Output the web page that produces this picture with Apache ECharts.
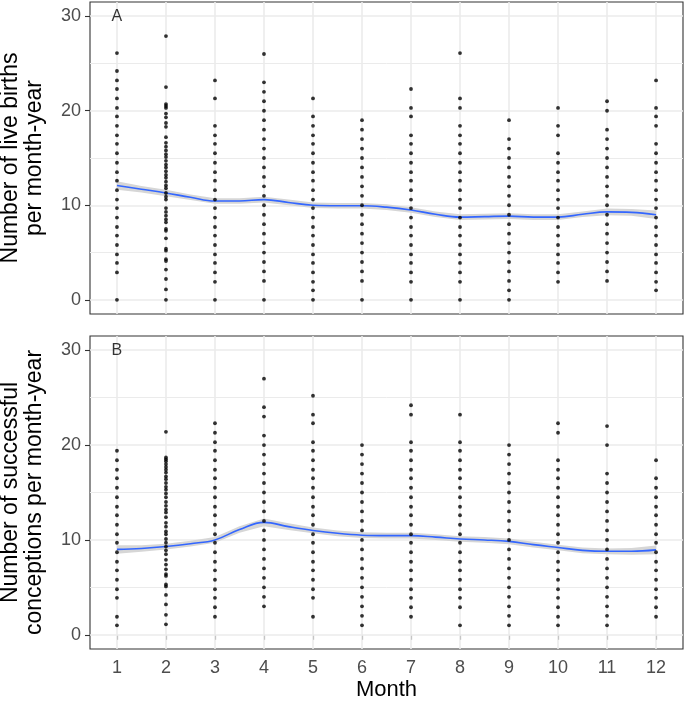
<!DOCTYPE html>
<html>
<head>
<meta charset="utf-8">
<script src="https://cdn.jsdelivr.net/npm/echarts@6/dist/echarts.min.js"></script>
<style>
  html, body { margin: 0; padding: 0; background: #fff; }
  #chart { width: 685px; height: 712px; }
</style>
</head>
<body>
<div id="chart"></div>
<script>
// ---- data ----
const months = [1, 2, 3, 4, 5, 6, 7, 8, 9, 10, 11, 12];
const yTicks = [0, 10, 20, 30];
const yMinorTicks = [5, 15, 25];

// Panel A: live births per month-year, one list per month
const birthsByMonth = [
  [26.1, 24.2, 23.2, 22.3, 21.3, 20.3, 19.4, 18.4, 17.4, 16.5, 15.5, 14.5, 13.5, 12.6, 11.6, 10.6, 9.7, 8.7, 7.7, 6.8, 5.8, 4.8, 3.9, 2.9, 0],
  [27.9, 22.5, 20.7, 20.5, 20.3, 19.7, 19.3, 18.7, 18.3, 17.2, 16.6, 16.2, 15.8, 15.4, 15.1, 14.7, 14.3, 14.0, 13.6, 13.2, 12.9, 12.5, 12.1, 11.8, 11.3, 10.9, 10.6, 9.7, 9.3, 8.9, 8.5, 8.2, 7.5, 7.3, 6.5, 5.4, 5.2, 4.3, 4.1, 3.2, 2.2, 1.1, 0],
  [23.2, 21.3, 18.4, 17.4, 16.5, 15.5, 14.5, 13.5, 12.6, 11.6, 10.6, 9.7, 8.7, 7.7, 6.8, 5.8, 4.8, 3.9, 2.9, 1.9, 0],
  [26, 23, 22, 21, 20, 19, 18, 17, 16, 15, 14, 13, 12, 11, 10, 9, 8, 7, 6, 5, 4, 3, 2, 0],
  [21.3, 19.4, 18.4, 17.4, 16.5, 15.5, 14.5, 13.5, 12.6, 11.6, 10.6, 9.7, 8.7, 7.7, 6.8, 5.8, 4.8, 3.9, 2.9, 1.9, 1.0, 0],
  [19, 18, 17, 16, 15, 14, 13, 12, 11, 10, 9, 8, 7, 6, 5, 4, 3, 2, 0],
  [22.3, 20.3, 19.4, 17.4, 16.5, 15.5, 14.5, 13.5, 12.6, 11.6, 10.6, 9.7, 8.7, 7.7, 6.8, 5.8, 4.8, 3.9, 2.9, 1.9, 0],
  [26.1, 21.3, 20.3, 18.4, 17.4, 16.5, 15.5, 14.5, 13.5, 12.6, 11.6, 10.6, 9.7, 8.7, 7.7, 6.8, 5.8, 4.8, 3.9, 2.9, 1.9, 0],
  [19, 17, 16, 15, 14, 13, 12, 11, 10, 9, 8, 7, 6, 5, 4, 3, 2, 1, 0],
  [20.3, 18.4, 17.4, 15.5, 14.5, 13.5, 12.6, 11.6, 10.6, 9.7, 8.7, 7.7, 6.8, 5.8, 4.8, 3.9, 2.9, 1.9],
  [21, 20, 18, 17, 16, 15, 14, 13, 12, 11, 10, 9, 8, 7, 6, 5, 4, 3, 2],
  [23.2, 20.3, 19.4, 18.4, 16.5, 15.5, 14.5, 13.5, 12.6, 11.6, 10.6, 9.7, 8.7, 7.7, 6.8, 5.8, 4.8, 3.9, 2.9, 1.9, 1.0]
];

// Panel B: successful conceptions per month-year, one list per month
const conceptionsByMonth = [
  [19.4, 18.4, 17.4, 16.5, 15.5, 14.5, 13.5, 12.6, 11.6, 10.6, 9.7, 8.7, 7.7, 6.8, 5.8, 4.8, 3.9, 1.9, 1.0],
  [21.4, 18.7, 18.5, 18.3, 18.0, 17.7, 17.4, 17.1, 16.7, 16.4, 16.0, 15.6, 15.3, 14.9, 14.5, 14.0, 13.6, 13.2, 12.9, 12.4, 11.8, 11.4, 10.9, 10.6, 10.1, 9.7, 9.3, 8.9, 8.5, 7.9, 7.4, 6.9, 6.4, 6.2, 5.3, 5.1, 4.2, 3.2, 2.1, 1.1],
  [22.3, 21.3, 20.3, 19.4, 18.4, 17.4, 16.5, 15.5, 14.5, 13.5, 12.6, 11.6, 10.6, 9.7, 8.7, 7.7, 6.8, 5.8, 4.8, 3.9, 2.9, 1.9],
  [27, 24, 23, 21, 20, 19, 18, 17, 16, 15, 14, 13, 12, 11, 10, 9, 8, 7, 6, 5, 4, 3],
  [25.2, 23.2, 22.3, 20.3, 19.4, 18.4, 17.4, 16.5, 15.5, 14.5, 13.5, 12.6, 11.6, 10.6, 9.7, 8.7, 7.7, 6.8, 5.8, 4.8, 3.9, 1.9],
  [20, 19, 18, 17, 16, 15, 14, 13, 12, 11, 10, 9, 8, 7, 6, 5, 4, 3, 2, 1],
  [24.2, 23.2, 20.3, 19.4, 18.4, 17.4, 16.5, 15.5, 14.5, 13.5, 12.6, 11.6, 10.6, 9.7, 8.7, 7.7, 6.8, 5.8, 4.8, 3.9, 2.9, 1.9],
  [23.2, 20.3, 19.4, 18.4, 17.4, 16.5, 15.5, 14.5, 13.5, 12.6, 11.6, 10.6, 9.7, 8.7, 7.7, 6.8, 5.8, 4.8, 3.9, 2.9, 1.0],
  [20, 19, 18, 17, 16, 15, 14, 13, 12, 11, 10, 9, 8, 7, 6, 5, 4, 3, 2, 1],
  [22.3, 21.3, 18.4, 17.4, 16.5, 15.5, 14.5, 13.5, 12.6, 11.6, 10.6, 9.7, 8.7, 7.7, 6.8, 5.8, 4.8, 3.9, 2.9, 1.9, 1.0],
  [22, 20, 17, 16, 15, 14, 13, 12, 11, 10, 9, 8, 7, 6, 5, 4, 3, 2, 1],
  [18.4, 16.5, 15.5, 14.5, 13.5, 12.6, 11.6, 10.6, 9.7, 8.7, 7.7, 6.8, 5.8, 4.8, 3.9, 2.9, 1.9]
];

// Smoothed fits (read at half-month steps) and their confidence bands
const fitX = [1, 1.5, 2, 2.5, 3, 3.5, 4, 4.5, 5, 5.5, 6, 6.5, 7, 7.5, 8, 8.5, 9, 9.5, 10, 10.5, 11, 11.5, 12];
const birthsFit = [12.1, 11.7, 11.3, 10.85, 10.45, 10.45, 10.6, 10.3, 10.0, 9.95, 9.95, 9.8, 9.5, 9.05, 8.75, 8.8, 8.85, 8.75, 8.75, 9.05, 9.3, 9.25, 9.0];
const birthsLo  = [11.65, 11.35, 10.95, 10.55, 10.15, 10.15, 10.3, 10.0, 9.7, 9.65, 9.65, 9.5, 9.2, 8.75, 8.45, 8.5, 8.55, 8.45, 8.45, 8.75, 8.95, 8.9, 8.55];
const birthsHi  = [12.55, 12.05, 11.65, 11.15, 10.75, 10.75, 10.9, 10.6, 10.3, 10.25, 10.25, 10.1, 9.8, 9.35, 9.05, 9.1, 9.15, 9.05, 9.05, 9.35, 9.65, 9.6, 9.45];
const conceptionsFit = [9.0, 9.1, 9.3, 9.6, 10.0, 11.1, 11.85, 11.4, 11.0, 10.7, 10.5, 10.45, 10.45, 10.3, 10.1, 10.0, 9.85, 9.5, 9.2, 8.9, 8.8, 8.8, 8.95];
const conceptionsLo  = [8.55, 8.75, 9.0, 9.3, 9.7, 10.75, 11.45, 11.05, 10.7, 10.4, 10.2, 10.15, 10.15, 10.0, 9.8, 9.7, 9.55, 9.2, 8.9, 8.6, 8.5, 8.45, 8.5];
const conceptionsHi  = [9.45, 9.45, 9.6, 9.9, 10.3, 11.45, 12.25, 11.75, 11.3, 11.0, 10.8, 10.75, 10.75, 10.6, 10.4, 10.3, 10.15, 9.8, 9.5, 9.2, 9.1, 9.15, 9.4];

const panelLabels = ['A', 'B'];
const yTitles = ['Number of live births\nper month-year', 'Number of successful\nconceptions per month-year'];
const xTitle = 'Month';

// ---- build options ----
const FONT = '"Liberation Sans", Arial, Helvetica, sans-serif';
const GRID_COLOR = '#ebebeb';

function pointsOf(byMonth) {
  const out = [];
  byMonth.forEach((vals, i) => vals.forEach(v => out.push([months[i], v])));
  return out;
}
function pairs(xs, ys) { return xs.map((x, i) => [x, ys[i]]); }

function gridLines() {
  const d = [];
  months.forEach(m => d.push({ xAxis: m, lineStyle: { color: GRID_COLOR, width: 1.6, type: 'solid' } }));
  yTicks.forEach(v => d.push({ yAxis: v, lineStyle: { color: GRID_COLOR, width: 1.6, type: 'solid' } }));
  yMinorTicks.forEach(v => d.push({ yAxis: v, lineStyle: { color: GRID_COLOR, width: 1, type: 'solid' } }));
  return d;
}

function bandSeries(idx, lo, hi) {
  return {
    type: 'custom', xAxisIndex: idx, yAxisIndex: idx, z: 2, silent: true,
    data: [[fitX[0], lo[0]]],
    renderItem: function (params, api) {
      const top = fitX.map((x, i) => api.coord([x, hi[i]]));
      const bottom = fitX.map((x, i) => api.coord([x, lo[i]])).reverse();
      return {
        type: 'polygon',
        shape: { points: top.concat(bottom) },
        style: { fill: '#d6d6d6', stroke: null }
      };
    }
  };
}

function panelSeries(idx, byMonth, fit, lo, hi) {
  return [
    {
      type: 'scatter', xAxisIndex: idx, yAxisIndex: idx, z: 4,
      data: pointsOf(byMonth), symbolSize: 3.8,
      itemStyle: { color: '#000' },
      markLine: {
        silent: true, symbol: 'none', z: 1, animation: false,
        label: { show: false }, emphasis: { disabled: true },
        data: gridLines()
      }
    },
    bandSeries(idx, lo, hi),
    {
      type: 'line', xAxisIndex: idx, yAxisIndex: idx, z: 3,
      data: pairs(fitX, fit), smooth: 0.4, symbol: 'none',
      lineStyle: { color: '#3366ff', width: 1.6 }
    },
    {
      type: 'scatter', xAxisIndex: idx, yAxisIndex: idx, z: 5,
      data: [[months[0], yTicks[yTicks.length - 1]]], symbolSize: 1,
      itemStyle: { color: 'rgba(0,0,0,0)' },
      label: { show: true, position: 'inside', formatter: panelLabels[idx], fontFamily: FONT, fontSize: 16, color: '#000' }
    }
  ];
}

function yAxis(idx) {
  return {
    type: 'value', gridIndex: idx, min: -1.5, max: 31.5,
    axisLine: { show: false },
    splitLine: { show: false },
    axisTick: { show: true, customValues: yTicks, length: 5, lineStyle: { color: '#333', width: 1.1 } },
    axisLabel: { customValues: yTicks, margin: 9, fontFamily: FONT, fontSize: 18, color: '#4d4d4d' },
    name: yTitles[idx], nameLocation: 'middle', nameRotate: 90, nameGap: 43,
    nameTextStyle: { fontFamily: FONT, fontSize: 23, lineHeight: 24, color: '#000' }
  };
}

const option = {
  animation: false,
  backgroundColor: '#fff',
  grid: [
    { left: 90, top: 2, width: 593, height: 312, show: true, borderColor: '#333', borderWidth: 1.1, backgroundColor: 'transparent', outerBoundsMode: 'none', containLabel: false },
    { left: 90, top: 336, width: 593, height: 313, show: true, borderColor: '#333', borderWidth: 1.1, backgroundColor: 'transparent', outerBoundsMode: 'none', containLabel: false }
  ],
  xAxis: [
    {
      type: 'value', gridIndex: 0, min: 0.45, max: 12.55,
      axisLine: { show: false }, axisTick: { show: false }, axisLabel: { show: false }, splitLine: { show: false }
    },
    {
      type: 'value', gridIndex: 1, min: 0.45, max: 12.55,
      axisLine: { show: false }, splitLine: { show: false },
      axisTick: { show: true, customValues: months, length: 5, lineStyle: { color: '#333', width: 1.1 } },
      axisLabel: { customValues: months, margin: 10, fontFamily: FONT, fontSize: 18, color: '#4d4d4d' },
      name: xTitle, nameLocation: 'middle', nameGap: 30,
      nameTextStyle: { fontFamily: FONT, fontSize: 22, color: '#000', verticalAlign: 'top' }
    }
  ],
  yAxis: [yAxis(0), yAxis(1)],
  series: [].concat(
    panelSeries(0, birthsByMonth, birthsFit, birthsLo, birthsHi),
    panelSeries(1, conceptionsByMonth, conceptionsFit, conceptionsLo, conceptionsHi)
  )
};

const chart = echarts.init(document.getElementById('chart'), null, { renderer: 'canvas' });
chart.setOption(option);
</script>
</body>
</html>
